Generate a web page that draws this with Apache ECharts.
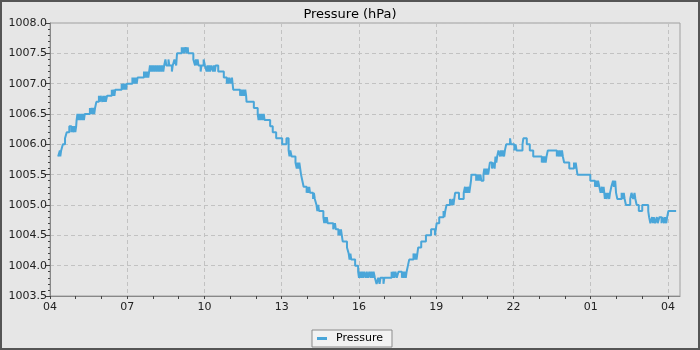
<!DOCTYPE html>
<html>
<head>
<meta charset="utf-8">
<script src="https://cdn.jsdelivr.net/npm/echarts@6/dist/echarts.min.js"></script>
<style>
html,body{margin:0;padding:0;background:#e6e6e6;}
#chart{width:700px;height:350px;}
</style>
</head>
<body>
<div id="chart"></div>
<script>
// Minutes since 04:00 of the first day
const minutes = [
19,23,24,26,30,35,39,45,50,52,54,57,59,61,62,64,66,68,70,73,75,77,79,81,93,95,97,99,101,103,105,108,114,116,118,122,124,126,128,130,133,144,146,148,150,152,167,169,171,173,175,177,179,192,194,196,198,200,202,204,219,221,223,225,227,229,231,233,235,237,239,241,244,246,249,251,254,256,259,261,264,266,269,271,276,278,284,286,290,294,296,307,309,311,313,316,319,321,322,334,338,340,342,344,346,351,353,358,361,365,367,369,371,373,376,380,382,384,386,392,405,412,414,416,418,421,424,427,443,445,447,450,452,455,457,458,475,484,486,488,490,493,495,498,500,513,519,527,541,551,556,558,560,563,572,575,577,579,581,583,585,588,591,598,600,602,604,606,613,615,617,621,623,625,627,637,639,641,643,645,647,660,664,666,672,674,676,678,680,682,692,696,698,700,702,711,718,720,722,725,727,730,732,736,738,741,744,747,749,752,754,757,761,765,768,770,777,779,796,798,800,802,805,808,812,820,822,824,826,829,831,834,837,847,850,852,854,856,858,865,876,888,897,899,901,907,917,919,921,924,932,936,938,940,942,944,953,964,967,968,970,972,974,977,979,981,982,993,995,997,999,1001,1003,1005,1010,1012,1013,1015,1017,1019,1021,1023,1025,1030,1032,1034,1036,1038,1040,1042,1045,1049,1051,1053,1055,1058,1060,1063,1072,1074,1082,1085,1087,1101,1103,1111,1118,1126,1146,1148,1150,1152,1155,1157,1160,1181,1183,1185,1188,1190,1193,1195,1198,1210,1221,1223,1225,1227,1229,1259,1270,1272,1275,1277,1280,1283,1286,1288,1290,1293,1295,1297,1300,1303,1305,1308,1312,1314,1317,1319,1322,1332,1334,1337,1339,1342,1352,1355,1359,1362,1364,1367,1372,1380,1394,1396,1399,1403,1405,1407,1410,1414,1416,1420,1425,1427,1431,1433,1436,1438,1441,1451,1459
];
const pressure = [
1005.8,1005.9,1005.8,1005.9,1006.0,1006.1,1006.2,1006.3,1006.2,1006.3,1006.2,1006.3,1006.2,1006.3,1006.4,1006.5,1006.4,1006.5,1006.4,1006.5,1006.4,1006.5,1006.4,1006.5,1006.6,1006.5,1006.6,1006.5,1006.6,1006.5,1006.6,1006.7,1006.8,1006.7,1006.8,1006.7,1006.8,1006.7,1006.8,1006.7,1006.8,1006.9,1006.8,1006.9,1006.8,1006.9,1007.0,1006.9,1007.0,1006.9,1007.0,1006.9,1007.0,1007.1,1007.0,1007.1,1007.0,1007.1,1007.0,1007.1,1007.2,1007.1,1007.2,1007.1,1007.2,1007.1,1007.2,1007.3,1007.2,1007.3,1007.2,1007.3,1007.2,1007.3,1007.2,1007.3,1007.2,1007.3,1007.2,1007.3,1007.2,1007.3,1007.4,1007.3,1007.4,1007.3,1007.2,1007.3,1007.4,1007.3,1007.5,1007.6,1007.5,1007.6,1007.5,1007.6,1007.5,1007.6,1007.5,1007.4,1007.3,1007.4,1007.3,1007.4,1007.3,1007.2,1007.3,1007.4,1007.3,1007.2,1007.3,1007.2,1007.3,1007.2,1007.3,1007.2,1007.3,1007.2,1007.3,1007.2,1007.1,1007.0,1007.1,1007.0,1007.1,1007.0,1007.1,1006.9,1006.8,1006.9,1006.8,1006.9,1006.8,1006.9,1006.8,1006.7,1006.6,1006.5,1006.4,1006.5,1006.4,1006.5,1006.4,1006.5,1006.4,1006.3,1006.2,1006.1,1006.0,1006.1,1005.9,1005.8,1005.9,1005.8,1005.7,1005.6,1005.7,1005.6,1005.7,1005.6,1005.5,1005.4,1005.3,1005.2,1005.3,1005.2,1005.3,1005.2,1005.1,1005.2,1005.1,1005.0,1004.9,1005.0,1004.9,1004.8,1004.7,1004.8,1004.7,1004.8,1004.7,1004.6,1004.7,1004.6,1004.5,1004.6,1004.5,1004.6,1004.5,1004.4,1004.3,1004.2,1004.1,1004.2,1004.1,1004.0,1003.9,1003.8,1003.9,1003.8,1003.9,1003.8,1003.9,1003.8,1003.9,1003.8,1003.9,1003.8,1003.9,1003.8,1003.9,1003.8,1003.7,1003.8,1003.7,1003.8,1003.7,1003.8,1003.9,1003.8,1003.9,1003.8,1003.9,1003.8,1003.9,1003.8,1003.9,1003.8,1003.9,1003.8,1003.9,1004.0,1004.1,1004.2,1004.1,1004.2,1004.1,1004.2,1004.3,1004.4,1004.5,1004.6,1004.5,1004.6,1004.7,1004.8,1004.9,1004.8,1004.9,1005.0,1005.1,1005.0,1005.1,1005.0,1005.1,1005.2,1005.1,1005.2,1005.3,1005.2,1005.3,1005.2,1005.3,1005.2,1005.3,1005.4,1005.5,1005.4,1005.5,1005.4,1005.5,1005.4,1005.5,1005.4,1005.5,1005.6,1005.5,1005.6,1005.5,1005.6,1005.5,1005.6,1005.7,1005.6,1005.7,1005.7,1005.6,1005.8,1005.7,1005.8,1005.9,1005.8,1005.9,1005.8,1005.9,1005.8,1005.9,1006.0,1006.1,1006.0,1005.9,1006.0,1005.9,1006.0,1006.1,1006.0,1005.9,1005.8,1005.7,1005.8,1005.7,1005.8,1005.7,1005.8,1005.9,1005.8,1005.9,1005.8,1005.9,1005.8,1005.9,1005.8,1005.7,1005.6,1005.7,1005.6,1005.7,1005.6,1005.5,1005.4,1005.3,1005.4,1005.3,1005.4,1005.3,1005.2,1005.3,1005.2,1005.3,1005.1,1005.2,1005.1,1005.2,1005.1,1005.2,1005.3,1005.4,1005.3,1005.4,1005.2,1005.1,1005.2,1005.1,1005.2,1005.1,1005.0,1005.1,1005.2,1005.1,1005.2,1005.1,1005.0,1004.9,1005.0,1004.9,1004.8,1004.7,1004.8,1004.7,1004.8,1004.7,1004.8,1004.7,1004.8,1004.7,1004.8,1004.7,1004.8,1004.7,1004.8,1004.9,1004.9
];
const xLabelValues = [0,180,360,540,720,900,1080,1260,1440];
const xTickValues = [0,60,120,180,240,300,360,420,480,540,600,660,720,780,840,900,960,1020,1080,1140,1200,1260,1320,1380,1440];
const titleText = 'Pressure (hPa)';
const seriesName = 'Pressure';

const FONT = 'DejaVu Sans';
const data = minutes.map((m, i) => [m, pressure[i]]);
const X_MIN = 0, X_MAX = 1468;

const chart = echarts.init(document.getElementById('chart'), null, {renderer: 'canvas'});
chart.setOption({
  backgroundColor: '#e6e6e6',
  animation: false,
  title: {
    text: titleText, left: 'center', top: 3,
    textStyle: {fontFamily: FONT, fontSize: 13, fontWeight: 'normal', color: '#000'}
  },
  legend: {
    data: [seriesName], bottom: 3, left: 'center',
    backgroundColor: '#f2f2f2', borderColor: '#8c8c8c', borderWidth: 1,
    padding: [3, 9, 3, 5], itemWidth: 10, itemHeight: 3, icon: 'rect', itemGap: 10,
    textStyle: {fontFamily: FONT, fontSize: 11, color: '#000', padding: [0, 0, 0, 4]}
  },
  graphic: [{
    type: 'rect', silent: true, z: 100,
    shape: {x: 1, y: 1, width: 698, height: 348},
    style: {fill: 'none', stroke: '#555', lineWidth: 2}
  }],
  grid: {
    left: 50, right: 20, top: 23, bottom: 54,
    show: true, borderColor: '#a0a0a0', borderWidth: 1, backgroundColor: 'transparent'
  },
  xAxis: [{
    type: 'value', min: X_MIN, max: X_MAX, interval: 180,
    axisLine: {lineStyle: {color: '#888'}},
    axisTick: {show: true, length: 3, customValues: xTickValues, lineStyle: {color: '#444'}},
    axisLabel: {
      customValues: xLabelValues,
      fontFamily: FONT, fontSize: 11, color: '#222', margin: 6,
      formatter: v => String((4 + Math.round(v / 60)) % 24).padStart(2, '0')
    },
    splitLine: {show: false}
  }, {
    type: 'value', min: X_MIN, max: X_MAX, interval: 180, position: 'bottom',
    axisLine: {show: false}, axisTick: {show: false}, axisLabel: {show: false},
    splitLine: {show: true, lineStyle: {color: '#c2c2c2', type: [4, 3], width: 1}}
  }],
  yAxis: {
    type: 'value', min: 1003.5, max: 1008.0, interval: 0.5,
    axisLine: {show: true, lineStyle: {color: '#888'}},
    axisTick: {show: true, length: 5, lineStyle: {color: '#444'}},
    minorTick: {show: true, splitNumber: 5, length: 2, lineStyle: {color: '#444'}},
    axisLabel: {
      fontFamily: FONT, fontSize: 11, color: '#222', margin: 3,
      formatter: v => v.toFixed(1)
    },
    splitLine: {show: true, lineStyle: {color: '#c2c2c2', type: [4, 3], width: 1}}
  },
  series: [{
    name: seriesName, type: 'line', data: data, step: 'end', xAxisIndex: 0,
    showSymbol: false, symbol: 'none',
    lineStyle: {color: '#4aa6d9', width: 2},
    itemStyle: {color: '#4aa6d9'}
  }]
});
</script>
</body>
</html>
